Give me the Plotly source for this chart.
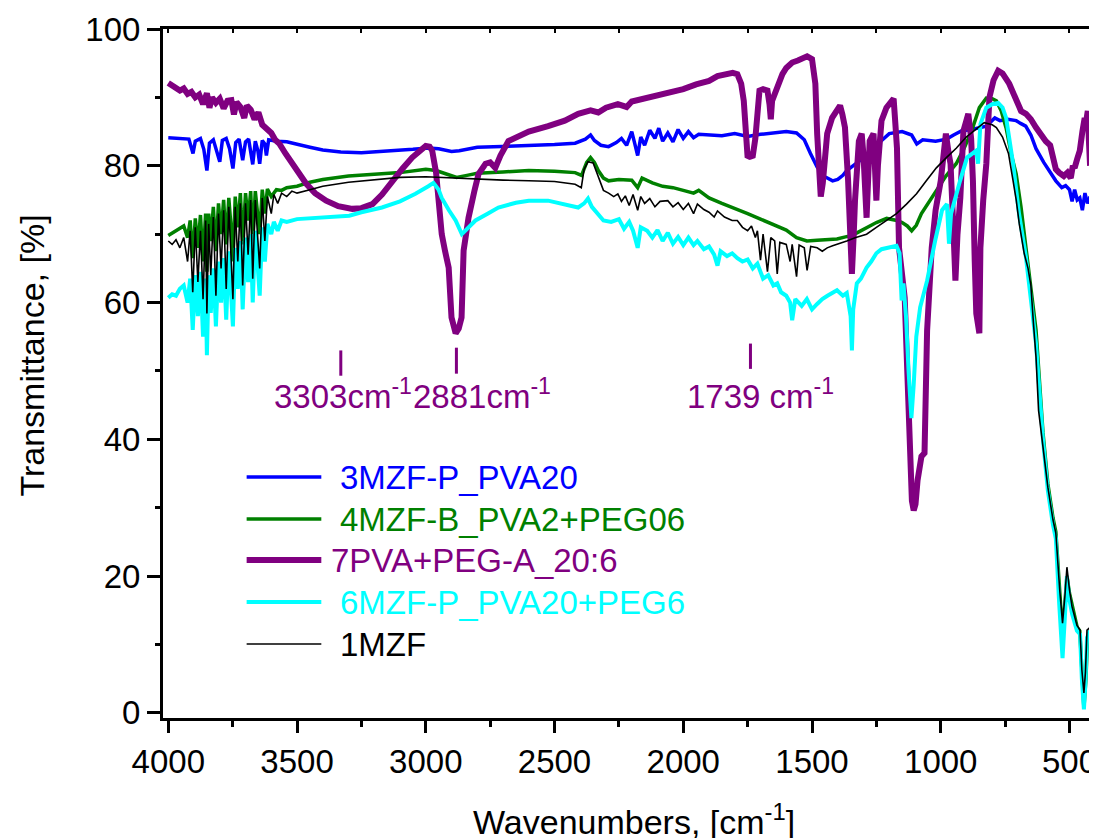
import plotly.graph_objects as go

# ---------------- data (wavenumber cm-1, transmittance %) ----------------
BLUE_3MZF_P_PVA20 = [
    (4000, 84.1), (3950, 84.0), (3920, 83.9), (3904, 81.8), (3895, 83.6), (3875, 84.0),
    (3862, 82.4), (3850, 79.3), (3840, 83.3), (3825, 83.8), (3812, 82.0), (3800, 80.6),
    (3790, 83.7), (3775, 84.0), (3762, 82.5), (3749, 79.6), (3738, 83.4), (3725, 83.9),
    (3711, 80.8), (3700, 83.5), (3688, 83.9), (3672, 80.2), (3662, 83.6), (3652, 82.2),
    (3645, 80.3), (3635, 83.7), (3625, 83.2), (3619, 81.5), (3610, 83.8), (3580, 83.6),
    (3540, 83.5), (3500, 83.2), (3450, 82.7), (3400, 82.3), (3330, 82.0), (3250, 81.9),
    (3150, 82.1), (3050, 82.4), (2990, 82.6), (2950, 82.5), (2900, 82.1), (2870, 82.2),
    (2800, 82.7), (2700, 82.8), (2600, 83.0), (2500, 83.1), (2420, 83.3), (2380, 83.9),
    (2360, 84.5), (2345, 83.7), (2320, 83.0), (2290, 82.8), (2260, 83.4), (2240, 84.0),
    (2220, 83.0), (2200, 85.0), (2190, 83.5), (2177, 81.5), (2165, 84.2), (2150, 83.0),
    (2130, 85.2), (2110, 84.0), (2095, 85.5), (2080, 83.6), (2060, 84.8), (2040, 83.5),
    (2020, 85.3), (2000, 84.0), (1980, 85.0), (1960, 84.1), (1940, 84.6), (1900, 84.5),
    (1850, 84.4), (1800, 84.7), (1750, 84.3), (1700, 84.6), (1650, 84.8), (1600, 85.0),
    (1560, 84.8), (1530, 83.8), (1506, 81.8), (1480, 79.8), (1450, 78.4), (1420, 77.8),
    (1400, 78.0), (1380, 78.6), (1365, 79.3), (1340, 80.0), (1310, 80.8), (1288, 81.5),
    (1250, 83.0), (1200, 84.7), (1150, 85.0), (1113, 84.5), (1093, 83.2), (1070, 83.8),
    (1020, 83.6), (977, 83.9), (950, 84.5), (920, 85.1), (880, 85.3), (823, 85.8),
    (790, 87.0), (770, 86.6), (740, 86.8), (707, 86.6), (690, 86.2), (670, 85.8),
    (650, 84.5), (630, 82.5), (600, 80.5), (575, 79.0), (553, 77.8), (530, 76.8),
    (515, 77.1), (500, 76.5), (490, 74.8), (480, 76.5), (470, 75.0), (460, 75.3),
    (450, 73.5), (440, 76.0), (430, 74.5), (420, 75.5), (410, 72.5),
]

GREEN_4MZF_B_PVA2_PEG06 = [
    (4000, 69.8), (3980, 70.3), (3960, 70.8), (3940, 71.2), (3925, 69.5), (3915, 72.0),
    (3905, 66.5), (3895, 72.3), (3885, 68.0), (3875, 72.8), (3865, 66.0), (3855, 73.0),
    (3850, 64.5), (3843, 73.0), (3835, 69.0), (3825, 74.0), (3815, 67.5), (3805, 74.5),
    (3795, 70.0), (3785, 75.0), (3775, 68.5), (3765, 75.3), (3755, 70.5), (3749, 66.0),
    (3740, 75.5), (3730, 71.0), (3720, 76.0), (3711, 68.5), (3700, 76.0), (3690, 72.0),
    (3680, 76.3), (3672, 69.0), (3662, 76.3), (3652, 72.5), (3645, 70.0), (3635, 76.5),
    (3625, 73.0), (3615, 76.6), (3600, 75.5), (3580, 76.5), (3560, 76.4), (3540, 76.8),
    (3500, 77.0), (3450, 77.6), (3400, 78.0), (3300, 78.5), (3200, 78.8), (3100, 79.0),
    (3000, 79.5), (2960, 79.3), (2920, 78.8), (2880, 78.3), (2840, 78.6), (2800, 78.9),
    (2700, 79.1), (2600, 79.3), (2500, 79.2), (2420, 79.0), (2395, 78.6), (2375, 80.5),
    (2360, 81.2), (2345, 80.5), (2330, 79.3), (2310, 78.2), (2290, 77.8), (2250, 78.0),
    (2200, 77.9), (2177, 76.8), (2160, 78.2), (2120, 77.5), (2080, 77.0), (2040, 76.8),
    (2000, 76.4), (1960, 76.0), (1940, 76.4), (1900, 75.3), (1850, 74.5), (1800, 73.8),
    (1750, 73.0), (1700, 72.2), (1650, 71.4), (1600, 70.6), (1560, 69.5), (1520, 69.0),
    (1480, 69.1), (1440, 69.2), (1403, 69.3), (1370, 69.6), (1345, 69.8), (1320, 70.3),
    (1288, 71.0), (1250, 71.7), (1210, 72.3), (1170, 72.0), (1150, 71.7), (1130, 71.2),
    (1113, 70.5), (1095, 71.3), (1075, 73.0), (1050, 74.5), (1017, 76.4), (980, 78.5),
    (940, 80.3), (910, 82.5), (880, 85.1), (850, 88.5), (823, 89.9), (800, 89.8),
    (784, 89.5), (765, 88.0), (746, 85.5), (725, 81.5), (707, 78.8), (688, 73.9),
    (669, 68.0), (650, 62.2), (630, 56.0), (603, 41.0), (584, 33.5), (564, 28.5),
    (553, 26.5), (540, 19.0), (527, 11.5), (518, 16.0), (510, 20.0), (500, 17.5),
    (490, 16.0), (480, 14.0), (470, 12.5), (460, 12.0), (452, 6.0), (444, 0.7),
    (436, 5.0), (430, 11.0), (420, 12.0),
]

PURPLE_7PVA_PEG_A = [
    (4000, 92.1), (3985, 91.8), (3970, 91.5), (3955, 91.0), (3940, 91.3), (3925, 90.5),
    (3910, 90.8), (3895, 90.0), (3880, 90.4), (3865, 89.0), (3850, 90.6), (3840, 88.5),
    (3830, 90.0), (3815, 89.2), (3800, 89.8), (3785, 88.4), (3770, 89.5), (3755, 89.6),
    (3745, 87.5), (3735, 89.3), (3720, 88.6), (3705, 87.0), (3695, 88.8), (3680, 88.2),
    (3665, 86.8), (3650, 87.8), (3635, 86.0), (3620, 85.5), (3600, 84.8), (3585, 83.8),
    (3568, 83.2), (3545, 81.8), (3518, 80.3), (3490, 78.9), (3465, 77.4), (3430, 76.0),
    (3387, 74.9), (3340, 74.1), (3285, 73.7), (3250, 73.8), (3207, 74.4), (3170, 75.8),
    (3130, 77.8), (3090, 79.6), (3053, 81.2), (3020, 82.4), (3000, 82.9), (2985, 82.8),
    (2975, 82.2), (2960, 79.0), (2950, 74.9), (2938, 70.0), (2925, 67.5), (2911, 65.1),
    (2900, 57.8), (2890, 55.8), (2884, 55.5), (2872, 56.2), (2861, 57.8), (2853, 67.6),
    (2834, 72.4), (2810, 76.5), (2795, 78.8), (2768, 80.3), (2750, 80.5), (2730, 79.7),
    (2710, 81.5), (2679, 83.6), (2640, 84.4), (2600, 85.0), (2525, 85.8), (2460, 86.6),
    (2408, 87.6), (2360, 88.1), (2330, 87.8), (2300, 88.5), (2254, 89.0), (2220, 88.6),
    (2200, 89.4), (2150, 89.8), (2100, 90.2), (2050, 90.6), (2000, 91.2), (1950, 91.9),
    (1900, 92.4), (1867, 93.1), (1830, 93.4), (1808, 93.6), (1790, 93.4), (1775, 92.0),
    (1765, 89.5), (1758, 84.7), (1750, 81.2), (1740, 81.5), (1731, 81.2), (1720, 84.0),
    (1712, 88.5), (1704, 91.0), (1690, 91.2), (1673, 91.0), (1665, 89.0), (1660, 86.8),
    (1655, 89.5), (1645, 90.5), (1630, 92.0), (1615, 93.4), (1600, 94.3), (1577, 95.1),
    (1555, 95.4), (1538, 95.6), (1519, 96.0), (1500, 95.6), (1492, 94.0), (1487, 92.0),
    (1480, 84.7), (1474, 78.0), (1466, 75.5), (1458, 77.5), (1450, 82.0), (1441, 84.7),
    (1422, 87.0), (1400, 88.5), (1391, 88.8), (1382, 87.5), (1372, 85.6), (1360, 78.0),
    (1352, 72.4), (1345, 64.2), (1338, 70.0), (1333, 74.9), (1318, 83.6), (1307, 84.7),
    (1300, 81.5), (1295, 77.4), (1288, 72.4), (1282, 78.0), (1276, 83.6), (1261, 84.7),
    (1255, 80.5), (1250, 74.9), (1244, 80.0), (1230, 86.6), (1211, 88.5), (1191, 89.5),
    (1183, 89.8), (1176, 86.0), (1170, 82.6), (1162, 68.0), (1150, 64.2), (1140, 60.7),
    (1130, 50.0), (1120, 38.0), (1112, 31.0), (1105, 29.6), (1098, 30.5), (1090, 34.0),
    (1075, 37.5), (1063, 38.0), (1058, 45.0), (1053, 55.9), (1035, 68.0), (1020, 73.5),
    (1000, 77.8), (980, 84.7), (970, 82.0), (962, 80.3), (950, 70.0), (943, 63.2),
    (935, 70.0), (924, 75.3), (912, 85.1), (893, 87.6), (882, 84.0), (875, 77.8),
    (868, 66.0), (862, 58.4), (850, 55.5), (846, 68.0), (835, 75.0), (823, 80.3),
    (811, 90.0), (795, 92.5), (777, 93.9), (760, 93.5), (734, 92.0), (707, 89.5),
    (688, 88.0), (669, 87.6), (650, 86.8), (630, 85.6), (610, 84.5), (592, 83.6),
    (575, 83.0), (553, 79.5), (540, 79.0), (522, 78.5), (508, 79.0), (495, 78.2),
    (487, 80.0), (480, 79.7), (470, 81.0), (460, 82.2), (450, 85.0), (441, 87.0),
    (435, 86.5), (429, 88.0), (425, 84.0), (420, 80.0),
]

CYAN_6MZF_P_PVA20_PEG6 = [
    (4000, 60.7), (3985, 61.2), (3970, 61.0), (3955, 62.0), (3940, 62.5), (3925, 60.0),
    (3915, 63.5), (3905, 56.0), (3895, 64.0), (3885, 58.0), (3875, 64.5), (3865, 55.0),
    (3855, 63.5), (3850, 52.3), (3843, 64.0), (3835, 58.5), (3825, 65.0), (3815, 56.5),
    (3805, 66.0), (3795, 60.0), (3785, 66.5), (3775, 57.5), (3765, 67.5), (3755, 61.0),
    (3749, 56.5), (3740, 68.0), (3730, 62.0), (3720, 69.0), (3711, 59.0), (3700, 69.5),
    (3690, 63.0), (3680, 70.0), (3672, 60.0), (3662, 70.5), (3652, 64.5), (3645, 61.0),
    (3635, 71.0), (3625, 66.0), (3615, 71.5), (3600, 70.0), (3590, 71.8), (3575, 70.5),
    (3560, 72.0), (3540, 71.8), (3500, 72.2), (3425, 72.4), (3350, 72.5), (3297, 72.7),
    (3250, 73.2), (3170, 73.9), (3100, 74.8), (3040, 75.9), (2990, 77.0), (2970, 77.5),
    (2950, 76.5), (2938, 75.3), (2910, 73.5), (2884, 72.0), (2860, 70.0), (2835, 71.0),
    (2807, 72.0), (2760, 73.0), (2718, 73.9), (2650, 74.6), (2600, 74.9), (2525, 74.9),
    (2480, 74.5), (2408, 73.9), (2385, 74.5), (2370, 75.2), (2355, 74.0), (2330, 72.8),
    (2310, 72.0), (2280, 71.8), (2250, 72.2), (2230, 70.8), (2210, 71.8), (2195, 70.5),
    (2177, 68.0), (2165, 71.0), (2140, 70.5), (2120, 69.5), (2100, 70.6), (2080, 69.0),
    (2060, 70.2), (2040, 68.6), (2020, 69.6), (2000, 68.4), (1980, 69.5), (1960, 68.4),
    (1945, 69.0), (1920, 67.8), (1900, 68.2), (1880, 67.0), (1867, 65.4), (1855, 67.5),
    (1830, 66.8), (1810, 67.2), (1790, 66.5), (1770, 66.0), (1750, 66.3), (1730, 65.0),
    (1712, 65.7), (1690, 63.5), (1670, 64.0), (1650, 62.5), (1635, 62.8), (1620, 61.5),
    (1600, 61.0), (1585, 60.0), (1577, 57.4), (1565, 60.5), (1540, 59.5), (1520, 60.5),
    (1500, 59.0), (1480, 59.8), (1460, 60.5), (1440, 61.0), (1420, 61.5), (1403, 61.8),
    (1380, 61.0), (1365, 61.4), (1350, 58.0), (1345, 53.0), (1340, 59.0), (1326, 62.8),
    (1310, 63.5), (1288, 65.1), (1270, 66.0), (1250, 67.2), (1230, 67.8), (1200, 68.0),
    (1172, 68.3), (1160, 67.2), (1152, 60.3), (1145, 62.8), (1135, 58.0), (1125, 50.0),
    (1114, 43.1), (1105, 48.0), (1095, 55.0), (1080, 59.3), (1053, 63.2), (1022, 69.0),
    (995, 73.5), (987, 73.9), (976, 74.4), (968, 68.6), (960, 73.0), (925, 77.8),
    (898, 81.2), (862, 82.2), (855, 80.3), (846, 86.1), (823, 88.5), (800, 89.0),
    (777, 89.2), (760, 88.5), (746, 87.0), (719, 80.3), (696, 73.0), (669, 66.6),
    (650, 60.7), (630, 54.0), (603, 40.0), (584, 32.5), (564, 27.5), (553, 25.5),
    (540, 16.0), (527, 8.0), (518, 14.0), (510, 20.0), (500, 16.5), (490, 14.5),
    (471, 12.0), (459, 11.5), (452, 5.0), (444, 0.5), (438, 4.5), (432, 11.0), (420, 12.0),
]

BLACK_1MZF = [
    (4000, 69.0), (3985, 68.5), (3970, 69.2), (3955, 68.0), (3940, 69.5), (3925, 66.0),
    (3915, 70.5), (3905, 61.5), (3895, 71.0), (3885, 63.0), (3875, 70.5), (3865, 60.5),
    (3855, 72.0), (3850, 58.4), (3843, 71.5), (3835, 64.0), (3825, 72.5), (3815, 61.0),
    (3805, 73.0), (3795, 65.0), (3785, 73.5), (3775, 62.0), (3765, 74.0), (3755, 64.5),
    (3749, 60.5), (3740, 74.0), (3730, 66.0), (3720, 74.5), (3711, 62.5), (3700, 74.5),
    (3690, 67.0), (3680, 75.0), (3672, 63.5), (3662, 75.0), (3652, 68.0), (3645, 65.0),
    (3635, 75.3), (3625, 69.0), (3615, 75.5), (3600, 73.0), (3590, 75.8), (3575, 74.5),
    (3560, 76.0), (3540, 75.5), (3520, 76.3), (3500, 76.0), (3450, 76.5), (3400, 77.0),
    (3300, 77.6), (3200, 78.0), (3100, 78.3), (3000, 78.4), (2900, 78.2), (2800, 78.0),
    (2700, 77.9), (2600, 77.8), (2500, 77.7), (2420, 77.3), (2396, 76.8), (2385, 79.5),
    (2370, 80.6), (2350, 80.4), (2330, 78.5), (2310, 76.4), (2290, 76.0), (2270, 75.5),
    (2254, 75.9), (2240, 74.8), (2225, 75.6), (2210, 74.2), (2195, 75.8), (2177, 73.5),
    (2165, 75.5), (2150, 74.5), (2130, 75.2), (2110, 74.0), (2090, 74.8), (2060, 74.9),
    (2040, 74.0), (2020, 74.6), (2000, 73.6), (1980, 74.5), (1960, 73.0), (1945, 74.4),
    (1920, 73.6), (1900, 73.2), (1880, 72.5), (1867, 73.4), (1840, 72.5), (1810, 72.0),
    (1790, 72.0), (1770, 71.0), (1750, 70.5), (1735, 71.2), (1720, 69.5), (1712, 70.5),
    (1700, 66.2), (1690, 70.0), (1673, 64.5), (1660, 69.5), (1645, 69.0), (1635, 64.2),
    (1625, 68.8), (1600, 68.5), (1585, 66.0), (1577, 68.5), (1560, 63.8), (1550, 68.4),
    (1530, 68.0), (1519, 64.7), (1505, 68.2), (1480, 68.0), (1460, 67.5), (1441, 68.0),
    (1420, 68.3), (1403, 68.5), (1365, 69.0), (1330, 69.5), (1288, 70.0), (1250, 71.0),
    (1210, 72.0), (1172, 73.0), (1133, 74.4), (1094, 75.9), (1056, 77.8), (1017, 79.7),
    (978, 81.2), (939, 82.6), (901, 84.2), (862, 85.3), (831, 86.3), (800, 86.0),
    (784, 85.6), (760, 84.2), (737, 81.8), (720, 78.0), (707, 75.0), (695, 71.5),
    (688, 70.0), (676, 67.2), (661, 65.0), (650, 62.5), (640, 57.0), (630, 52.0),
    (620, 44.2), (603, 38.8), (584, 33.0), (564, 28.2), (553, 26.3), (538, 18.0),
    (527, 13.1), (518, 17.0), (510, 21.3), (500, 18.0), (490, 15.5), (471, 12.8),
    (459, 12.1), (452, 6.3), (444, 2.9), (438, 6.0), (432, 12.1), (420, 12.5),
]

SERIES_NAMES = ["3MZF-P_PVA20", "4MZF-B_PVA2+PEG06", "7PVA+PEG-A_20:6",
                "6MZF-P_PVA20+PEG6", "1MZF"]
PEAK_LABELS = ["3303cm<sup>-1</sup>", "2881cm<sup>-1</sup>", "1739 cm<sup>-1</sup>"]
PEAK_MARK_WN = [3330, 2881, 1739]

X_TICKS = [4000, 3500, 3000, 2500, 2000, 1500, 1000, 500]
Y_TICKS = [0, 20, 40, 60, 80, 100]

# ---------------- styling ----------------
FONT = "Liberation Sans, Arial, sans-serif"
PAGE_OFF = 8                       # default body margin of the html page
W, H = 1097 - PAGE_OFF, 838 - PAGE_OFF
L, R, T, B = 163 - PAGE_OFF, 0, 29 - PAGE_OFF, 120
PW, PH = W - L - R, H - T - B

def px_x(px):          # page pixel -> paper fraction
    return (px - PAGE_OFF - L) / PW

def px_y(py):
    return (H - B - (py - PAGE_OFF)) / PH

styles = [
    dict(color="#0000FF", width=3.5),
    dict(color="#008000", width=3.5),
    dict(color="#800080", width=6),
    dict(color="#00FFFF", width=4),
    dict(color="#000000", width=1.6),
]
all_series = [BLUE_3MZF_P_PVA20, GREEN_4MZF_B_PVA2_PEG06, PURPLE_7PVA_PEG_A,
              CYAN_6MZF_P_PVA20_PEG6, BLACK_1MZF]

fig = go.Figure()
for name, data, st in zip(SERIES_NAMES, all_series, styles):
    fig.add_trace(go.Scatter(
        x=[p[0] for p in data], y=[p[1] for p in data],
        mode="lines", name=name, line=dict(color=st["color"], width=st["width"]),
        showlegend=False, hoverinfo="skip",
    ))
# empty helper trace so that the top (inside-tick) axis is drawn
fig.add_trace(go.Scatter(x=[None], y=[None], xaxis="x2", mode="lines",
                         showlegend=False, hoverinfo="skip"))

shapes = []
annotations = []

# manual legend (Origin-style)
leg_rows = [477, 519, 560, 602, 644]
leg_text_x = [339, 339, 330, 339, 339]
for i, (name, st) in enumerate(zip(SERIES_NAMES, styles)):
    yp = px_y(leg_rows[i])
    shapes.append(dict(type="line", xref="paper", yref="paper",
                       x0=px_x(247), x1=px_x(322), y0=yp, y1=yp,
                       line=dict(color=st["color"], width=st["width"])))
    annotations.append(dict(xref="paper", yref="paper", x=px_x(leg_text_x[i]), y=yp,
                            xanchor="left", yanchor="middle", showarrow=False,
                            text=name, font=dict(family=FONT, size=33, color=st["color"])))

# peak marks and labels
mark_y = [(49.3, 53.0), (49.6, 53.4), (50.3, 54.0)]
for wn, (y0, y1) in zip(PEAK_MARK_WN, mark_y):
    shapes.append(dict(type="line", xref="x", yref="y", x0=wn, x1=wn, y0=y0, y1=y1,
                       line=dict(color="#800080", width=3)))
label_left_px = [272, 412, 687]
for txt, lx in zip(PEAK_LABELS, label_left_px):
    annotations.append(dict(xref="paper", yref="paper", x=px_x(lx), y=px_y(394),
                            xanchor="left", yanchor="middle", showarrow=False,
                            text=txt, font=dict(family=FONT, size=33, color="#800080")))

# axis titles
annotations.append(dict(xref="paper", yref="paper", x=px_x(636), y=px_y(819),
                        xanchor="center", yanchor="middle", showarrow=False,
                        text="Wavenumbers, [cm<sup>-1</sup>]",
                        font=dict(family=FONT, size=34, color="black")))
annotations.append(dict(xref="paper", yref="paper", x=px_x(31), y=px_y(356),
                        xanchor="center", yanchor="middle", showarrow=False, textangle=-90,
                        text="Transmittance, [%]",
                        font=dict(family=FONT, size=34, color="black")))

fig.update_layout(
    width=W, height=H,
    margin=dict(l=L, r=R, t=T, b=B, pad=0),
    paper_bgcolor="white", plot_bgcolor="white",
    font=dict(family=FONT, size=33, color="black"),
    showlegend=False,
    shapes=shapes, annotations=annotations,
    xaxis=dict(
        range=[4020.5, 408.7], tickmode="array", tickvals=X_TICKS,
        ticktext=[str(v) for v in X_TICKS], ticklabeloverflow="allow",
        ticks="outside", ticklen=12, tickwidth=3, tickcolor="black",
        minor=dict(dtick=250, tick0=0, ticks="outside", ticklen=6, tickwidth=3, tickcolor="black"),
        showline=True, linewidth=3, linecolor="black", mirror=True,
        showgrid=False, zeroline=False,
        tickfont=dict(family=FONT, size=33, color="black"),
    ),
    xaxis2=dict(
        overlaying="x", matches="x", side="top", range=[4020.5, 408.7],
        tickmode="linear", tick0=0, dtick=250, ticks="inside", ticklen=4, tickwidth=2,
        tickcolor="black", showticklabels=False, showline=False, showgrid=False, zeroline=False,
    ),
    yaxis=dict(
        range=[-0.75, 100], tickmode="array", tickvals=Y_TICKS,
        ticks="outside", ticklen=13, tickwidth=3, tickcolor="black",
        minor=dict(dtick=10, tick0=0, ticks="outside", ticklen=5, tickwidth=3, tickcolor="black"),
        showline=True, linewidth=3, linecolor="black", mirror=False,
        showgrid=False, zeroline=False,
        tickfont=dict(family=FONT, size=33, color="black"),
    ),
)

fig.write_html("out.html")
